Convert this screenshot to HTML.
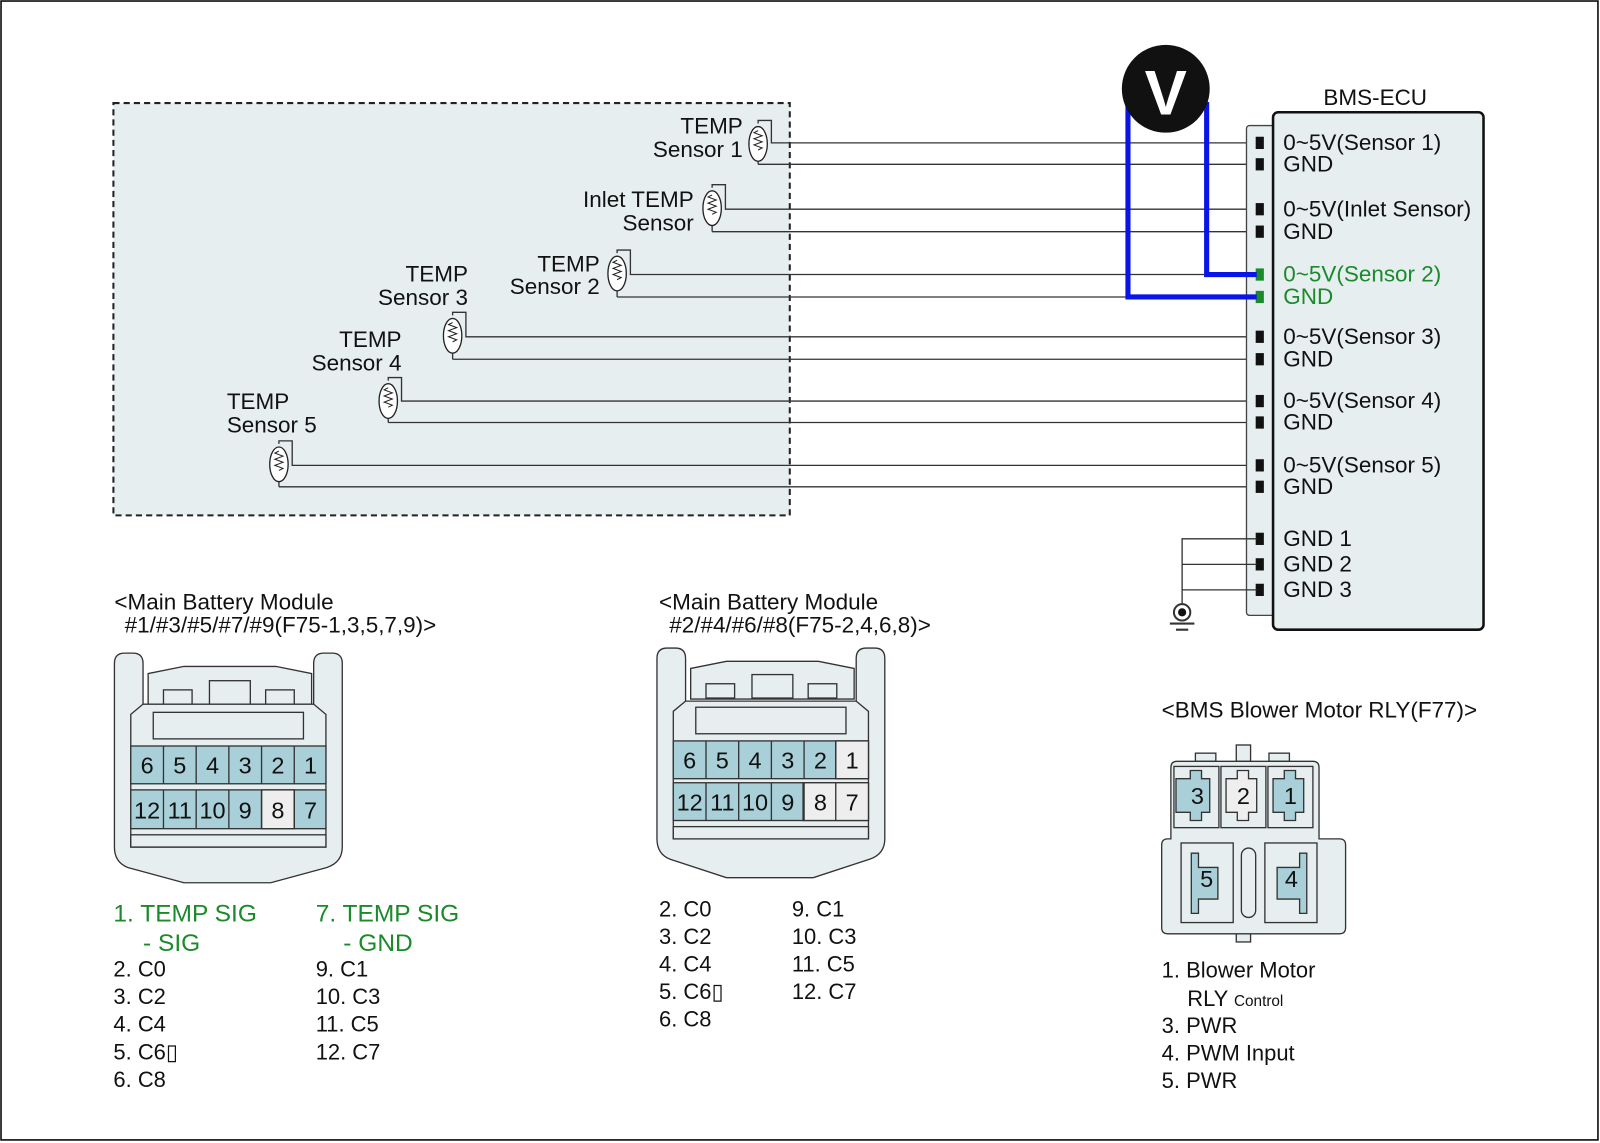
<!DOCTYPE html>
<html><head><meta charset="utf-8"><style>
html,body{margin:0;padding:0;background:#fff;}
svg{display:block;}
text{font-family:"Liberation Sans",Arial,sans-serif;fill:#111;}
</style></head><body>
<svg width="1600" height="1143" viewBox="0 0 1566 1120" preserveAspectRatio="none" xmlns="http://www.w3.org/2000/svg">
<rect x="1" y="1" width="1563" height="1116" fill="#fff" stroke="#000" stroke-width="1.5"/>
<rect x="111" y="101" width="662" height="404" fill="#e6eef0" stroke="#222" stroke-width="2" stroke-dasharray="6,4"/>

<g stroke="#333" stroke-width="1.3" fill="none">
<path d="M742 121 V118 H755 V140 H1230 M742 161 H1230"/>
<path d="M697 184 V181 H710 V205 H1230 M697 227 H1230"/>
<path d="M604 248 V245 H617 V269 H1230 M604 291 H1230"/>
<path d="M443 309 V306 H456 V330 H1230 M443 352 H1230"/>
<path d="M380 373 V370 H393 V393 H1230 M380 414 H1230"/>
<path d="M273 435 V432 H286 V456 H1230 M273 477 H1230"/>
<path d="M742 158 V161 M697 221 V227 M604 285 V291 M443 346 V352 M380 410 V414 M273 472 V477"/>
</g>
<g fill="#fff" stroke="#222" stroke-width="1.3">
<ellipse cx="742" cy="141" rx="9" ry="17"/>
<ellipse cx="697" cy="204" rx="9" ry="17"/>
<ellipse cx="604" cy="268" rx="9" ry="17"/>
<ellipse cx="443" cy="329" rx="9" ry="17"/>
<ellipse cx="380" cy="393" rx="9" ry="17"/>
<ellipse cx="273" cy="455" rx="9" ry="17"/>
</g>
<g stroke="#222" stroke-width="1" fill="none">
<path d="M742 131 l-4 2 l8 3 l-8 3 l8 3 l-8 3 l8 3 l-4 2" transform="translate(0,-3)"/>
<path d="M697 194 l-4 2 l8 3 l-8 3 l8 3 l-8 3 l8 3 l-4 2" transform="translate(0,-3)"/>
<path d="M604 258 l-4 2 l8 3 l-8 3 l8 3 l-8 3 l8 3 l-4 2" transform="translate(0,-3)"/>
<path d="M443 319 l-4 2 l8 3 l-8 3 l8 3 l-8 3 l8 3 l-4 2" transform="translate(0,-3)"/>
<path d="M380 383 l-4 2 l8 3 l-8 3 l8 3 l-8 3 l8 3 l-4 2" transform="translate(0,-3)"/>
<path d="M273 445 l-4 2 l8 3 l-8 3 l8 3 l-8 3 l8 3 l-4 2" transform="translate(0,-3)"/>
</g>
<g font-size="22">
<text x="727" y="131" text-anchor="end">TEMP</text><text x="727" y="154" text-anchor="end">Sensor 1</text>
<text x="679" y="203" text-anchor="end">Inlet TEMP</text><text x="679" y="226" text-anchor="end">Sensor</text>
<text x="587" y="266" text-anchor="end">TEMP</text><text x="587" y="288" text-anchor="end">Sensor 2</text>
<text x="458" y="276" text-anchor="end">TEMP</text><text x="458" y="299" text-anchor="end">Sensor 3</text>
<text x="393" y="340" text-anchor="end">TEMP</text><text x="393" y="363" text-anchor="end">Sensor 4</text>
<text x="222" y="401">TEMP</text><text x="222" y="424">Sensor 5</text>
</g>

<rect x="1220" y="123" width="30" height="480" rx="3" fill="#e6eef0" stroke="#444" stroke-width="1.3"/>
<rect x="1246" y="110" width="206" height="507" rx="5" fill="#e6eef0" stroke="#111" stroke-width="2.5"/>
<text x="1346" y="103" font-size="22" text-anchor="middle">BMS-ECU</text>
<g fill="#111">
<rect x="1229" y="134" width="8" height="12"/><rect x="1229" y="155" width="8" height="12"/>
<rect x="1229" y="199" width="8" height="12"/><rect x="1229" y="221" width="8" height="12"/>
<rect x="1229" y="324" width="8" height="12"/><rect x="1229" y="346" width="8" height="12"/>
<rect x="1229" y="387" width="8" height="12"/><rect x="1229" y="408" width="8" height="12"/>
<rect x="1229" y="450" width="8" height="12"/><rect x="1229" y="471" width="8" height="12"/>
<rect x="1229" y="522" width="8" height="12"/><rect x="1229" y="547" width="8" height="12"/><rect x="1229" y="572" width="8" height="12"/>
</g>
<rect x="1229" y="263" width="8" height="12" fill="#1a8a2a"/><rect x="1229" y="285" width="8" height="12" fill="#1a8a2a"/>
<g font-size="22">
<text x="1256" y="147">0~5V(Sensor 1)</text><text x="1256" y="168">GND</text>
<text x="1256" y="212">0~5V(Inlet Sensor)</text><text x="1256" y="234">GND</text>
<text x="1256" y="276" style="fill:#1a8a2a">0~5V(Sensor 2)</text><text x="1256" y="298" style="fill:#1a8a2a">GND</text>
<text x="1256" y="337">0~5V(Sensor 3)</text><text x="1256" y="359">GND</text>
<text x="1256" y="400">0~5V(Sensor 4)</text><text x="1256" y="421">GND</text>
<text x="1256" y="463">0~5V(Sensor 5)</text><text x="1256" y="484">GND</text>
<text x="1256" y="535">GND 1</text><text x="1256" y="560">GND 2</text><text x="1256" y="585">GND 3</text>
</g>
<g stroke="#333" stroke-width="1.3" fill="none">
<path d="M1230 528 H1157 V592 M1157 553 H1230 M1157 578 H1230"/>
<circle cx="1157" cy="600" r="8" stroke-width="2"/>
<path d="M1145 611 H1169 M1151 617 H1163" stroke-width="2"/>
</g>
<circle cx="1157" cy="600" r="4" fill="#111"/>

<path d="M1104 100 V291 H1230 M1181 100 V269 H1230" stroke="#0a14e6" stroke-width="5" fill="none"/>
<circle cx="1141" cy="87" r="43" fill="#111"/>
<text x="1141" y="112" font-size="62" font-weight="bold" text-anchor="middle" style="fill:#fff">V</text>

<g font-size="22">
<text x="112" y="597">&lt;Main Battery Module</text>
<text x="122" y="620">#1/#3/#5/#7/#9(F75-1,3,5,7,9)&gt;</text>
<text x="645" y="597">&lt;Main Battery Module</text>
<text x="655" y="620">#2/#4/#6/#8(F75-2,4,6,8)&gt;</text>
</g>
<g stroke="#333" stroke-width="1.3" fill="#e6eef0">
<path d="M112 650 Q112 640 122 640 H130 Q140 640 140 650 V700 H307 V650 Q307 640 317 640 H325 Q335 640 335 650 V830 Q335 845 320 850 L265 865 H180 L125 850 Q112 845 112 830 Z"/>
<path d="M145 660 L180 653 H270 L305 660 V690 H145 Z"/>
<rect x="160" y="676" width="28" height="14"/><rect x="260" y="676" width="28" height="14"/><rect x="205" y="667" width="40" height="23"/>
<path d="M128 700 L140 690 H307 L319 700 V830 H128 Z"/>
<rect x="150" y="698" width="147" height="26"/>
<rect x="128" y="818" width="191" height="12"/>
</g>
<g stroke="#333" stroke-width="1.3">
<rect x="128" y="731" width="191" height="37" fill="#a9cfd8"/>
<rect x="128" y="774" width="191" height="38" fill="#a9cfd8"/>
<rect x="256" y="774" width="32" height="38" fill="#eeeeee"/>
<path d="M160 731 V768 M192 731 V768 M224 731 V768 M256 731 V768 M288 731 V768 M160 774 V812 M192 774 V812 M224 774 V812 M256 774 V812 M288 774 V812"/>
</g>
<g font-size="23" text-anchor="middle">
<text x="144" y="758">6</text><text x="176" y="758">5</text><text x="208" y="758">4</text><text x="240" y="758">3</text><text x="272" y="758">2</text><text x="304" y="758">1</text>
<text x="144" y="802">12</text><text x="176" y="802">11</text><text x="208" y="802">10</text><text x="240" y="802">9</text><text x="272" y="802">8</text><text x="304" y="802">7</text>
</g>

<g stroke="#333" stroke-width="1.3" fill="#e6eef0">
<path d="M643 645 Q643 635 653 635 H661 Q671 635 671 645 V695 H838 V645 Q838 635 848 635 H856 Q866 635 866 645 V822 Q866 837 851 842 L796 860 H711 L656 842 Q643 837 643 822 Z"/>
<path d="M676 655 L711 648 H801 L836 655 V685 H676 Z"/>
<rect x="691" y="670" width="28" height="14"/><rect x="791" y="670" width="28" height="14"/><rect x="736" y="661" width="40" height="23"/>
<path d="M659 697 L671 687 H838 L850 697 V822 H659 Z"/>
<rect x="681" y="693" width="147" height="26"/>
<rect x="659" y="810" width="191" height="12"/>
</g>
<g stroke="#333" stroke-width="1.3">
<rect x="659" y="726" width="191" height="37" fill="#a9cfd8"/>
<rect x="659" y="767" width="191" height="37" fill="#a9cfd8"/>
<rect x="818" y="726" width="32" height="37" fill="#eeeeee"/>
<rect x="786" y="767" width="64" height="37" fill="#eeeeee"/>
<path d="M691 726 V763 M723 726 V763 M755 726 V763 M787 726 V763 M818 726 V763 M691 767 V804 M723 767 V804 M755 767 V804 M787 767 V804 M818 767 V804"/>
</g>
<g font-size="23" text-anchor="middle">
<text x="675" y="753">6</text><text x="707" y="753">5</text><text x="739" y="753">4</text><text x="771" y="753">3</text><text x="803" y="753">2</text><text x="834" y="753">1</text>
<text x="675" y="794">12</text><text x="707" y="794">11</text><text x="739" y="794">10</text><text x="771" y="794">9</text><text x="803" y="794">8</text><text x="834" y="794">7</text>
</g>

<g font-size="24">
<text x="111" y="903" style="fill:#1a8a2a">1. TEMP SIG</text><text x="140" y="932" style="fill:#1a8a2a">- SIG</text>
<text x="309" y="903" style="fill:#1a8a2a">7. TEMP SIG</text><text x="336" y="932" style="fill:#1a8a2a">- GND</text>
</g>
<g font-size="21.5">
<text x="111" y="957">2. C0</text><text x="111" y="984">3. C2</text><text x="111" y="1011">4. C4</text><text x="111" y="1038">5. C6▯</text><text x="111" y="1065">6. C8</text>
<text x="309" y="957">9. C1</text><text x="309" y="984">10. C3</text><text x="309" y="1011">11. C5</text><text x="309" y="1038">12. C7</text>
<text x="645" y="898">2. C0</text><text x="645" y="925">3. C2</text><text x="645" y="952">4. C4</text><text x="645" y="979">5. C6▯</text><text x="645" y="1006">6. C8</text>
<text x="775" y="898">9. C1</text><text x="775" y="925">10. C3</text><text x="775" y="952">11. C5</text><text x="775" y="979">12. C7</text>
</g>

<text x="1137" y="703" font-size="22">&lt;BMS Blower Motor RLY(F77)&gt;</text>
<g stroke="#333" stroke-width="1.3" fill="#e6eef0">
<rect x="1170" y="738" width="20" height="8"/><rect x="1242" y="738" width="20" height="8"/><rect x="1210" y="730" width="14" height="16"/>
<rect x="1210" y="905" width="14" height="18"/>
<path d="M1152 746 H1285 Q1291 746 1291 752 V822 H1311 Q1317 822 1317 828 V909 Q1317 915 1311 915 H1143 Q1137 915 1137 909 V828 Q1137 822 1143 822 H1146 V752 Q1146 746 1152 746 Z"/>
</g>
<g stroke="#333" stroke-width="1.3">
<rect x="1149" y="751" width="44" height="60" fill="#e6eef0"/>
<rect x="1195" y="751" width="44" height="60" fill="#e6eef0"/>
<rect x="1241" y="751" width="44" height="60" fill="#e6eef0"/>
<path d="M1165 755 H1176 V763 H1184 V796 H1176 V804 H1165 V796 H1151 V763 H1165 Z" fill="#a9cfd8"/>
<path d="M1211 755 H1222 V763 H1230 V796 H1222 V804 H1211 V796 H1200 V763 H1211 Z" fill="#eeeeee"/>
<path d="M1257 755 H1268 V763 H1276 V796 H1268 V804 H1257 V796 H1246 V763 H1257 Z" fill="#a9cfd8"/>
<rect x="1156" y="826" width="51" height="78" fill="#e6eef0"/>
<rect x="1238" y="826" width="51" height="78" fill="#e6eef0"/>
<rect x="1215" y="831" width="14" height="68" rx="7" fill="#e6eef0"/>
<path d="M1166 836 H1173 V850 H1192 V881 H1173 V895 H1166 Z" fill="#a9cfd8"/>
<path d="M1279 836 H1272 V850 H1250 V881 H1272 V895 H1279 Z" fill="#a9cfd8"/>
</g>
<g font-size="23" text-anchor="middle">
<text x="1172" y="788">3</text><text x="1217" y="788">2</text><text x="1263" y="788">1</text>
<text x="1181" y="869">5</text><text x="1264" y="869">4</text>
</g>
<g font-size="21.5">
<text x="1137" y="958">1. Blower Motor</text>
<text x="1162" y="986">RLY <tspan font-size="15">Control</tspan></text>
<text x="1137" y="1012">3. PWR</text>
<text x="1137" y="1039">4. PWM Input</text>
<text x="1137" y="1066">5. PWR</text>
</g>
</svg>
</body></html>
